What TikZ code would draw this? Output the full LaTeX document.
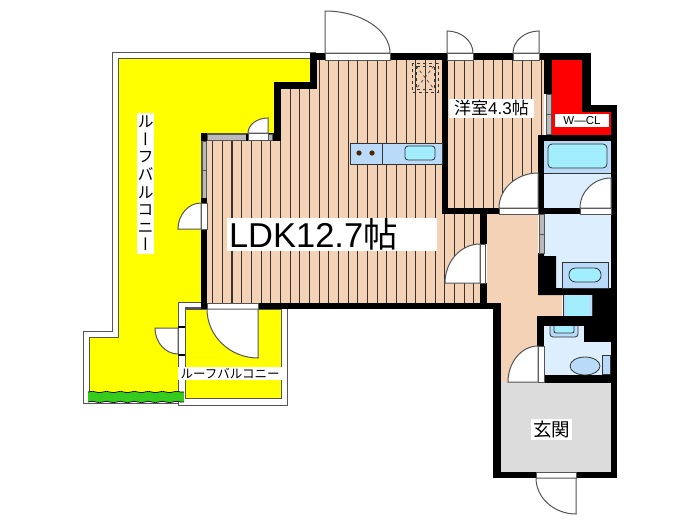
\documentclass[tikz,border=0pt]{standalone}
\usepackage{fontspec}
\setmainfont{Liberation Sans}
\newfontfamily\jpfont{Noto Sans CJK JP}
\newfontfamily\jpvert[RawFeature=+vert]{Noto Sans CJK JP}
\usetikzlibrary{calc,decorations.pathmorphing}
\definecolor{beige}{HTML}{F3D2B6}
\definecolor{stripe}{HTML}{3A3030}
\definecolor{balcony}{HTML}{FFFF00}
\definecolor{closet}{HTML}{FF0000}
\definecolor{paleblue}{HTML}{DDEFFF}
\definecolor{midblue}{HTML}{B9DAF8}
\definecolor{aqua}{HTML}{A2EEFF}
\definecolor{entry}{HTML}{DCDCDC}
\definecolor{grass}{HTML}{35CC1E}
\definecolor{edge}{HTML}{555555}
\tikzset{
  wall/.style={fill=black},
  outline/.style={draw=edge, line width=1pt},
  glass/.style={draw=edge, line width=1pt, fill=white!45!gray},
  sill/.style={draw=edge, line width=0.7pt, fill=white},
  door/.style={draw=edge, line width=1pt, fill=white},
  fixture/.style={draw=black!80, line width=0.8pt},
  hedge/.style={draw=black, line width=0.7pt, decorate, decoration={snake, amplitude=0.7pt, segment length=14pt}},
  lbl/.style={fill=white, inner sep=1pt, text=black}
}
\newcommand{\doorleaf}[3]{%
  \draw[door] #1 -- #2 .. controls ($#2+0.55*#3-0.55*#1$) and ($#3+0.55*#2-0.55*#1$) .. #3 -- cycle;}

\begin{document}
\begin{tikzpicture}[x=1pt,y=-1pt]
  \useasboundingbox (0,0) rectangle (700,525);

  % balcony
  \draw[outline] (316,52)--(112,52)--(112,331)--(83,331)--(83,403)--(178,403)--(178,405)--(287,405)--(287,309);
  \draw[outline] (178,403)--(178,302)--(201,302);
  \draw[outline, fill=balcony] (118,58)--(310,58)--(310,82)--(274,82)--(274,133)--(201,133)--(201,302)--(178,302)--(178,400)--(89,400)--(89,337)--(118,337)--cycle;
  \draw[outline, fill=balcony] (185,309)--(281,309)--(281,398)--(185,398)--cycle;
  \fill[grass] (88,392) rectangle (184,402);
  \draw[hedge] (88,392)--(184,392);
  \draw[hedge] (88,402)--(184,402);

  % floors
  \fill[beige] (207,141)--(281,141)--(281,89)--(317,89)--(317,60)--(442,60)--(442,214)--(480,214)--(480,303)--(207,303)--cycle;
  \fill[beige] (448,60)--(544,60)--(544,135)--(538,135)--(538,208)--(448,208)--cycle;
  \begin{scope}
    \clip (207,141)--(281,141)--(281,89)--(317,89)--(317,60)--(442,60)--(442,214)--(480,214)--(480,303)--(207,303)--cycle
          (448,60)--(544,60)--(544,135)--(538,135)--(538,208)--(448,208)--cycle;
    \foreach \k in {0,...,34}
      \draw[stripe, line width=1.1pt] ({212.7+9.67*\k},55)--({212.7+9.67*\k},310);
  \end{scope}
  \fill[beige] (487,214)--(538,214)--(538,295)--(562,295)--(562,316)--(538,316)--(538,382)--(501,382)--(501,303)--(487,303)--cycle;
  \fill[closet] (552,60)--(582,60)--(582,112)--(611,112)--(611,135)--(552,135)--cycle;
  \fill[paleblue] (544,141)--(611,141)--(611,208)--(544,208)--cycle;
  \fill[paleblue] (544,214)--(611,214)--(611,288)--(544,288)--cycle;
  \fill[paleblue] (544,326)--(584,326)--(584,342)--(611,342)--(611,375)--(544,375)--cycle;
  \fill[entry] (501,382)--(611,382)--(611,472)--(501,472)--cycle;

  % walls
  \fill[wall] (310,53) rectangle (325,60);
  \fill[wall] (310,53) rectangle (317,89);
  \fill[wall] (274,82) rectangle (317,89);
  \fill[wall] (274,82) rectangle (281,141);
  \fill[wall] (268,133) rectangle (281,141);
  \fill[wall] (201,229) rectangle (207,309);
  \fill[wall] (258,303) rectangle (500,309);
  \fill[wall] (390,53) rectangle (591,60);
  \fill[wall] (442,53) rectangle (448,214);
  \fill[wall] (442,208) rectangle (499,214);
  \fill[wall] (544,60) rectangle (552,94);
  \fill[wall] (582,53) rectangle (591,112);
  \fill[wall] (582,105) rectangle (617,112);
  \fill[wall] (611,105) rectangle (617,478);
  \fill[wall] (538,135) rectangle (617,141);
  \fill[wall] (538,135) rectangle (544,214);
  \fill[wall] (538,208) rectangle (580,214);
  \fill[wall] (480,214) rectangle (487,244);
  \fill[wall] (480,283) rectangle (487,309);
  \fill[wall] (538,253)--(544,253)--(544,256)--(556,256)--(556,288)--(611,288)--(611,295)--(538,295)--cycle;
  \fill[wall] (592,288) rectangle (617,316);
  \fill[wall] (537,316) rectangle (617,326);
  \fill[wall] (584,326) rectangle (617,342);
  \fill[wall] (537,316) rectangle (544,346);
  \fill[wall] (538,375) rectangle (617,383);
  \fill[wall] (493,303) rectangle (501,478);
  \fill[wall] (493,472) rectangle (617,478);

  % windows and sills
  \fill[black] (201,133) rectangle (207,141);
  \draw[glass] (207,134) rectangle (246,140);
  \draw[glass] (268,134) rectangle (272,140);
  \fill[black] (246,134) rectangle (248,141);
  \draw[glass] (202,141) rectangle (206,170);
  \draw[glass] (202,170) rectangle (206,198);
  \fill[black] (201,198) rectangle (207,203);
  \draw[glass] (546,94) rectangle (551,114);
  \draw[glass] (546,114) rectangle (551,134);
  \draw[glass] (539,214) rectangle (544,234);
  \draw[glass] (539,234) rectangle (544,253);
  \draw[sill] (325,53) rectangle (390,60);
  \draw[sill] (447,53) rectangle (473,60);
  \draw[sill] (513,53) rectangle (539,60);
  \draw[sill] (248,133) rectangle (268,140);
  \draw[sill] (201,203) rectangle (207,229);
  \draw[sill] (207,303) rectangle (258,309);
  \draw[sill] (499,208) rectangle (538,214);
  \draw[sill] (580,208) rectangle (611,214);
  \draw[sill] (480,244) rectangle (485,283);
  \draw[sill] (538,346) rectangle (544,382);
  \draw[sill] (536,472) rectangle (576,478);
  \fill[edge] (185,307) rectangle (201,309);
  \fill[black] (178,326) rectangle (185,328);
  \fill[black] (178,354) rectangle (185,356);

  % doors
  \doorleaf{(325,53)}{(325,11)}{(390,53)}
  \doorleaf{(447,53)}{(447,31)}{(473,53)}
  \doorleaf{(539,53)}{(539,31)}{(513,53)}
  \doorleaf{(268,133)}{(268,118)}{(248,133)}
  \doorleaf{(201,229)}{(178,229)}{(201,203)}
  \doorleaf{(258,309)}{(258,358)}{(207,309)}
  \doorleaf{(178,328)}{(155,328)}{(178,354)}
  \doorleaf{(538,208)}{(538,173)}{(499,208)}
  \doorleaf{(611,208)}{(611,178)}{(580,208)}
  \doorleaf{(480,283)}{(445,283)}{(480,244)}
  \doorleaf{(538,382)}{(538,346)}{(508,382)}
  \doorleaf{(576,478)}{(576,514)}{(536,478)}

  % kitchen
  \draw[fixture, fill=midblue] (350,143) rectangle (442,164);
  \draw[fixture] (382,143)--(382,164);
  \draw[fixture, fill=aqua, rounded corners=3pt] (405,146) rectangle (435,160);
  \fill[black!70!orange] (359,153) circle (2.6);
  \fill[black!70!orange] (372,153) circle (2.6);
  \draw[fixture, dashed, line width=0.6pt] (412,63) rectangle (438,92);
  \draw[fixture, dashed, line width=0.6pt] (416,66) rectangle (434,89);
  \draw[fixture, dashed, line width=0.6pt] (416,66)--(434,89) (434,66)--(416,89);

  % bath, washroom, toilet
  \fill[midblue] (544,141) rectangle (611,173);
  \draw[fixture] (544,173)--(611,173);
  \draw[fixture, fill=aqua, rounded corners=4pt] (548,144) rectangle (607,168);
  \draw[fixture, fill=midblue] (562,262) rectangle (608,288);
  \draw[fixture, fill=aqua, rounded corners=6.5pt] (569,268) rectangle (601,282);
  \fill[midblue] (563,295) rectangle (592,316);
  \fill[aqua] (566,295) rectangle (589,316);
  \draw[fixture] (563,295)--(563,316) (592,295)--(592,316);
  \draw[fixture, fill=midblue, rounded corners=3pt] (550,326)--(550,337)--(578,337)--(578,326);
  \draw[fixture, fill=aqua, rounded corners=2pt] (554,326)--(554,333)--(574,333)--(574,326);
  \draw[fixture, fill=midblue] (602,355) rectangle (610,374);
  \draw[fixture, fill=midblue] (585,366) ellipse (15 and 9);

  % labels
  \node[lbl, minimum width=17pt, minimum height=141pt, inner sep=0pt] (roofbox) at (145.5,183.5) {};
  \node[inner sep=0pt, align=center, font=\jpvert\fontsize{16}{17.6}\selectfont] (rooflabel) at (145.5,183.5) {ル\\ー\\フ\\バ\\ル\\コ\\ニ\\ー};
  \node[lbl, minimum width=104pt, minimum height=13pt, inner sep=0pt, font=\jpfont\fontsize{12.5}{13}\selectfont] (roofsmall) at (230,373.5) {ルーフバルコニー};
  \node[lbl, minimum width=210pt, minimum height=33pt, inner sep=0pt, text width=206pt, align=left, font=\fontsize{34.5}{34}\selectfont] (ldk) at (332,234.5) {LDK12.7{\jpfont 帖}};
  \node[lbl, minimum width=85pt, minimum height=19pt, inner sep=0pt, font=\fontsize{17}{17}\selectfont] (westroom) at (491.5,108.5) {{\jpfont 洋室}4.3{\jpfont 帖}};
  \node[lbl, minimum width=54pt, minimum height=13pt, inner sep=0pt, font=\fontsize{11.5}{11}\selectfont] (wcl) at (582,120.5) {W—CL};
  \node[lbl, minimum width=41pt, minimum height=21pt, inner sep=0pt, font=\jpfont\fontsize{18.5}{19}\selectfont] (genkan) at (551.5,429.5) {玄関};
\end{tikzpicture}
\end{document}
